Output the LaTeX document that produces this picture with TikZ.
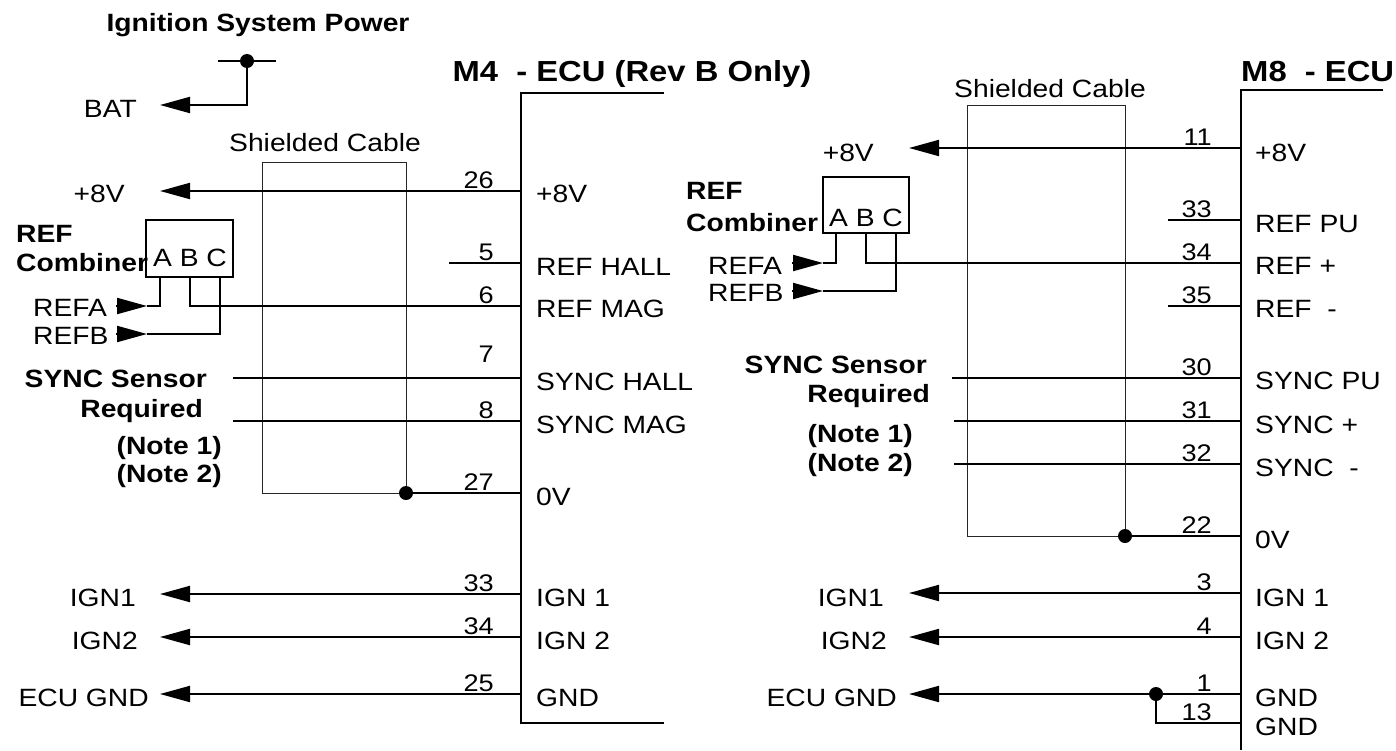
\documentclass[tikz,border=0pt]{standalone}
\usepackage{fontspec}
\setmainfont{Liberation Sans}[FakeStretch=1.13]
\usetikzlibrary{arrows.meta}

\tikzset{
	wire/.style={line width=2pt},
	sig/.style={line width=2pt, -{Triangle[length=30pt,width=16pt]}},
	shield/.style={line width=1pt, draw=black!85},
	ecu/.style={line width=2.4pt},
	lbl/.style={inner sep=0pt, font=\fontsize{25}{30}\selectfont},
	blbl/.style={inner sep=0pt, font=\fontsize{25}{30}\selectfont\bfseries},
	ttl/.style={inner sep=0pt, font=\fontsize{29}{34}\selectfont\bfseries},
	pin/.style={inner sep=0pt, anchor=base east, font=\fontsize{24}{28}\selectfont},
	joint/.style={circle, fill, inner sep=0pt, minimum size=14pt},
	combbox/.style={draw, line width=1.4pt, minimum width=87pt, minimum height=57pt, inner sep=0pt},
}

\begin{document}
\begin{tikzpicture}[x=1pt, y=-1pt]
	\useasboundingbox (0,0) rectangle (1396,750);

	%ignition supply
	\node[blbl, anchor=base] (ignpow) at (258,31){Ignition System Power};
	\coordinate (ignl) at (218,61);
	\coordinate (ignr) at (276,61);
	\node[joint] (ignj) at (247,61){};
	\coordinate (battip) at (160,105);
	\node[lbl, anchor=base east] (bat) at (137,117){BAT};
	\draw[wire] (ignl) -- (ignr);
	\draw[sig] (ignj.center) |- (battip);

	%M4 ecu
	\node[ttl, anchor=base] (m4title) at (632,81){M4\ \ - ECU (Rev B Only)};
	\coordinate (m4tl) at (521,93);
	\coordinate (m4tr) at (664,93);
	\coordinate (m4bl) at (521,723);
	\coordinate (m4br) at (664,723);
	\draw[ecu] (m4tr) -- (m4tl) -- (m4bl) -- (m4br);

	\coordinate (m4p26) at (521,191);
	\coordinate (m4p5) at (521,263);
	\coordinate (m4p6) at (521,306);
	\coordinate (m4p7) at (521,378);
	\coordinate (m4p8) at (521,421);
	\coordinate (m4p27) at (521,493);
	\coordinate (m4p33) at (521,594);
	\coordinate (m4p34) at (521,637);
	\coordinate (m4p25) at (521,694);

	\node[pin] (m4n26) at (494,188){26};
	\node[pin] (m4n5) at (494,260){5};
	\node[pin] (m4n6) at (494,303){6};
	\node[pin] (m4n7) at (494,362){7};
	\node[pin] (m4n8) at (494,418){8};
	\node[pin] (m4n27) at (494,490){27};
	\node[pin] (m4n33) at (494,591){33};
	\node[pin] (m4n34) at (494,634){34};
	\node[pin] (m4n25) at (494,691){25};

	\node[lbl, anchor=base west] (m4t26) at (536,202){+8V};
	\node[lbl, anchor=base west] (m4t5) at (536,275){REF HALL};
	\node[lbl, anchor=base west] (m4t6) at (536,317){REF MAG};
	\node[lbl, anchor=base west] (m4t7) at (536,390){SYNC HALL};
	\node[lbl, anchor=base west] (m4t8) at (536,433){SYNC MAG};
	\node[lbl, anchor=base west] (m4t27) at (536,505){0V};
	\node[lbl, anchor=base west] (m4t33) at (536,606){IGN 1};
	\node[lbl, anchor=base west] (m4t34) at (536,649){IGN 2};
	\node[lbl, anchor=base west] (m4t25) at (536,706){GND};

	%M4 shield and combiner
	\node[lbl, anchor=base] (shieldL) at (325,151){Shielded Cable};
	\coordinate (shLtl) at (262,162);
	\coordinate (shLbr) at (406,493);
	\draw[shield] (shLtl) rectangle (shLbr);
	\node[joint] (dotL) at (406,493){};

	\node[combbox] (combL) at (189.5,248.5){};
	\node[lbl, anchor=base] (abcL) at (190,266){A B C};
	\node[blbl, anchor=base west] (refL) at (16,242){REF};
	\node[blbl, anchor=base west] (combinerL) at (16,271){Combiner};
	\node[lbl, anchor=base west] (refaL) at (33,316){REFA};
	\node[lbl, anchor=base west] (refbL) at (33,344){REFB};
	\coordinate (refaLb) at (116,306);
	\coordinate (refaLt) at (147,306);
	\coordinate (refbLb) at (116,334);
	\coordinate (refbLt) at (147,334);

	\node[blbl, anchor=base east] (syncL) at (207,387){SYNC Sensor};
	\node[blbl, anchor=base east] (reqL) at (203,417){Required};
	\node[blbl, anchor=base east] (note1L) at (222,454){(Note 1)};
	\node[blbl, anchor=base east] (note2L) at (222,482){(Note 2)};
	\coordinate (sync7L) at (233,378);
	\coordinate (sync8L) at (233,421);
	\coordinate (ref5L) at (449,263);

	\node[lbl, anchor=base east] (plusL) at (125,202){+8V};
	\coordinate (plusLtip) at (160,191);
	\node[lbl, anchor=base east] (ign1L) at (136,606){IGN1};
	\coordinate (ign1Ltip) at (160,594);
	\node[lbl, anchor=base east] (ign2L) at (138,649){IGN2};
	\coordinate (ign2Ltip) at (160,637);
	\node[lbl, anchor=base east] (gndL) at (149,706){ECU GND};
	\coordinate (gndLtip) at (160,694);

	\draw[sig] (m4p26) -- (plusLtip);
	\draw[wire] (ref5L) -- (m4p5);
	\draw[wire] (combL.south) |- (m4p6);
	\draw[wire] ([xshift=15pt]combL.south west) |- (refaLt);
	\draw[wire] ([xshift=-14pt]combL.south east) |- (refbLt);
	\draw[sig] (refaLb) -- (refaLt);
	\draw[sig] (refbLb) -- (refbLt);
	\draw[wire] (sync7L) -- (m4p7);
	\draw[wire] (sync8L) -- (m4p8);
	\draw[wire] (dotL) -- (m4p27);
	\draw[sig] (m4p33) -- (ign1Ltip);
	\draw[sig] (m4p34) -- (ign2Ltip);
	\draw[sig] (m4p25) -- (gndLtip);

	%M8 ecu
	\node[ttl, anchor=base west] (m8title) at (1241,81){M8\ \ - ECU};
	\coordinate (m8tl) at (1241,90);
	\coordinate (m8tr) at (1383,90);
	\coordinate (m8bl) at (1241,750);
	\draw[ecu] (m8tr) -- (m8tl) -- (m8bl);

	\coordinate (m8p11) at (1241,148);
	\coordinate (m8p33) at (1241,220);
	\coordinate (m8p34) at (1241,263);
	\coordinate (m8p35) at (1241,306);
	\coordinate (m8p30) at (1241,378);
	\coordinate (m8p31) at (1241,421);
	\coordinate (m8p32) at (1241,464);
	\coordinate (m8p22) at (1241,536);
	\coordinate (m8p3) at (1241,593);
	\coordinate (m8p4) at (1241,637);
	\coordinate (m8p1) at (1241,694);
	\coordinate (m8p13) at (1241,723);

	\node[pin] (m8n11) at (1212,145){11};
	\node[pin] (m8n33) at (1212,217){33};
	\node[pin] (m8n34) at (1212,260){34};
	\node[pin] (m8n35) at (1212,303){35};
	\node[pin] (m8n30) at (1212,375){30};
	\node[pin] (m8n31) at (1212,418){31};
	\node[pin] (m8n32) at (1212,461){32};
	\node[pin] (m8n22) at (1212,533){22};
	\node[pin] (m8n3) at (1212,590){3};
	\node[pin] (m8n4) at (1212,634){4};
	\node[pin] (m8n1) at (1212,691){1};
	\node[pin] (m8n13) at (1212,720){13};

	\node[lbl, anchor=base west] (m8t11) at (1255,161){+8V};
	\node[lbl, anchor=base west] (m8t33) at (1255,232){REF PU};
	\node[lbl, anchor=base west] (m8t34) at (1255,274){REF +};
	\node[lbl, anchor=base west] (m8t35) at (1255,317){REF\ \ -};
	\node[lbl, anchor=base west] (m8t30) at (1255,389){SYNC PU};
	\node[lbl, anchor=base west] (m8t31) at (1255,433){SYNC +};
	\node[lbl, anchor=base west] (m8t32) at (1255,476){SYNC\ \ -};
	\node[lbl, anchor=base west] (m8t22) at (1255,548){0V};
	\node[lbl, anchor=base west] (m8t3) at (1255,606){IGN 1};
	\node[lbl, anchor=base west] (m8t4) at (1255,649){IGN 2};
	\node[lbl, anchor=base west] (m8t1) at (1255,706){GND};
	\node[lbl, anchor=base west] (m8t13) at (1255,735){GND};

	%M8 shield and combiner
	\node[lbl, anchor=base] (shieldR) at (1050,97){Shielded Cable};
	\coordinate (shRtl) at (967,105);
	\coordinate (shRbr) at (1125,536);
	\draw[shield] (shRtl) rectangle (shRbr);
	\node[joint] (dotR) at (1125,536){};

	\node[combbox, minimum width=86pt, minimum height=56pt] (combR) at (866,205){};
	\node[lbl, anchor=base] (abcR) at (866,226){A B C};
	\node[blbl, anchor=base west] (refR) at (686,199){REF};
	\node[blbl, anchor=base west] (combinerR) at (686,231){Combiner};
	\node[lbl, anchor=base west] (refaR) at (708,274){REFA};
	\node[lbl, anchor=base west] (refbR) at (708,301){REFB};
	\coordinate (refaRb) at (792,263);
	\coordinate (refaRt) at (823,263);
	\coordinate (refbRb) at (792,291);
	\coordinate (refbRt) at (823,291);

	\node[blbl, anchor=base east] (syncR) at (927,373){SYNC Sensor};
	\node[blbl, anchor=base east] (reqR) at (930,402){Required};
	\node[blbl, anchor=base east] (note1R) at (913,442){(Note 1)};
	\node[blbl, anchor=base east] (note2R) at (913,471){(Note 2)};
	\coordinate (sync30R) at (952,378);
	\coordinate (sync31R) at (954,421);
	\coordinate (sync32R) at (954,464);
	\coordinate (ref33R) at (1168,220);
	\coordinate (ref35R) at (1168,306);

	\node[lbl, anchor=base east] (plusR) at (874,161){+8V};
	\coordinate (plusRtip) at (909,148);
	\node[lbl, anchor=base east] (ign1R) at (884,606){IGN1};
	\coordinate (ign1Rtip) at (909,593);
	\node[lbl, anchor=base east] (ign2R) at (887,649){IGN2};
	\coordinate (ign2Rtip) at (909,637);
	\node[lbl, anchor=base east] (gndR) at (897,706){ECU GND};
	\coordinate (gndRtip) at (909,694);
	\node[joint] (dotG) at (1156,694){};

	\draw[sig] (m8p11) -- (plusRtip);
	\draw[wire] (ref33R) -- (m8p33);
	\draw[wire] (combR.south) |- (m8p34);
	\draw[wire] (ref35R) -- (m8p35);
	\draw[wire] ([xshift=14pt]combR.south west) |- (refaRt);
	\draw[wire] ([xshift=-14pt]combR.south east) |- (refbRt);
	\draw[sig] (refaRb) -- (refaRt);
	\draw[sig] (refbRb) -- (refbRt);
	\draw[wire] (sync30R) -- (m8p30);
	\draw[wire] (sync31R) -- (m8p31);
	\draw[wire] (sync32R) -- (m8p32);
	\draw[wire] (dotR) -- (m8p22);
	\draw[sig] (m8p3) -- (ign1Rtip);
	\draw[sig] (m8p4) -- (ign2Rtip);
	\draw[sig] (m8p1) -- (gndRtip);
	\draw[wire] (dotG.center) |- (m8p13);

\end{tikzpicture}
\end{document}
